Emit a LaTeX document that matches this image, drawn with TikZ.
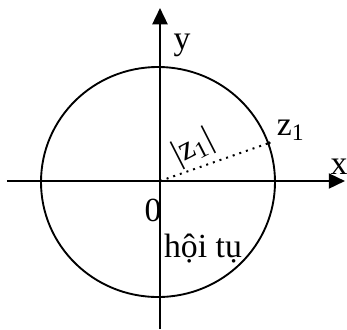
\documentclass[tikz,border=0pt]{standalone}
\usepackage{fontspec}
\setmainfont{Liberation Serif}
\usetikzlibrary{arrows.meta}
\tikzset{
  axis/.style={-{Triangle[length=6.5pt, width=6pt]}, line width=0.9pt},
  rim/.style={line width=0.75pt},
  lbl/.style={font=\fontsize{13.5}{16}\selectfont, inner sep=1pt},
  rad/.style={dotted, line width=0.8pt},
}
\begin{document}
\begin{tikzpicture}[x=0.4pt, y=0.4pt]
  \useasboundingbox (-160,-148) rectangle (187,181);
  \coordinate (O) at (0,0);
  \coordinate (xl) at (-153,0);
  \coordinate (xr) at (185,0);
  \coordinate (yb) at (0,-148);
  \coordinate (yt) at (0,173);
  % circle of convergence
  \draw[rim] (-2,-1) ellipse [x radius=117, y radius=115];
  \draw[axis] (xl) -- (xr);
  \draw[axis] (yb) -- (yt);
  \node[lbl] (xlab) at (179,14) {x};
  \node[lbl] (ylab) at (22,136) {y};
  \node[lbl] (olab) at (-7,-29) {0};
  \fill (109,38) circle (1.8) coordinate (z1);
  \node[lbl] (zlab) at (131,51) {z\textsubscript{1}};
  \draw[rad] (O) -- (z1);
  \node[lbl, rotate=27, inner sep=0pt] (mod) at (33,33) {|z\textsubscript{1}|};
  \node[lbl] (conv) at (43,-68) {hội tụ};
\end{tikzpicture}
\end{document}
